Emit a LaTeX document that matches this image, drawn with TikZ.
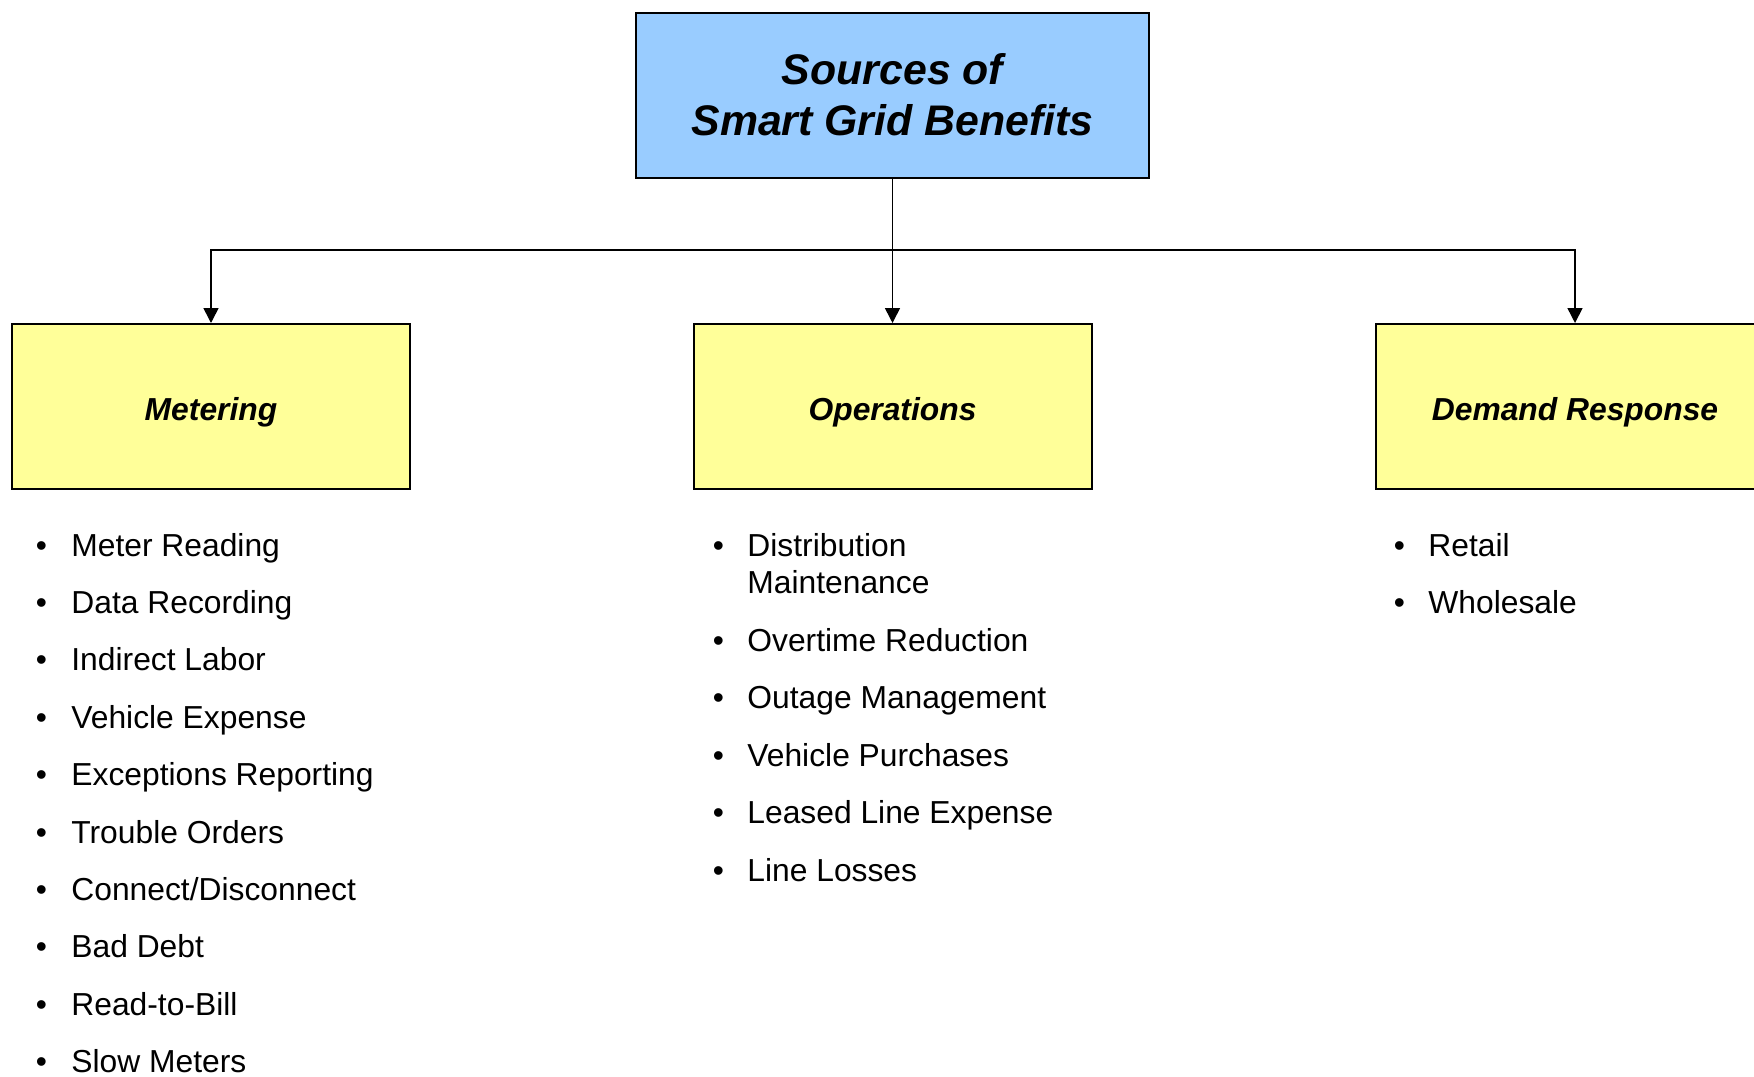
\documentclass[tikz,border=0pt]{standalone}
\usepackage{fontspec}
\setmainfont{Liberation Sans}
\usetikzlibrary{arrows.meta}
\definecolor{topblue}{RGB}{153,204,255}
\definecolor{catyellow}{RGB}{255,255,153}
\begin{document}
\begin{tikzpicture}[x=0.5pt,y=-0.5pt,
  box/.style={draw=black, line width=1pt, rectangle, inner sep=0pt, minimum height=82.5pt},
  cat/.style={box, fill=catyellow, minimum width=199pt, font=\fontsize{15.9}{19}\selectfont\bfseries\itshape, text height=13.5pt, text depth=0pt},
  conn/.style={line width=0.8pt, draw=black},
  arr/.style={conn, -{Triangle[length=7.5pt,width=7.5pt]}},
  bul/.style={anchor=base west, inner sep=0pt, font=\fontsize{15.9}{19}\selectfont},
  itemtext/.style={anchor=base west, inner sep=0pt, font=\fontsize{15.9}{19}\selectfont},
]
\useasboundingbox (0,0) rectangle (1754,1076);
\fill[white] (0,0) rectangle (1754,1076);

\node[box, fill=topblue, minimum width=256.5pt, align=center,
  font=\fontsize{21.4}{25.5}\selectfont\bfseries\itshape] (top) at (892.5,95)
  {Sources of\\Smart Grid Benefits};

\node[cat] (met) at (211,406.5) {Metering};
\node[cat] (ops) at (892.5,406.5) {Operations};
\node[cat] (dr)  at (1575,406.5) {Demand Response};

\coordinate (hub) at (892.5,250);
\draw[arr] (top.south) -- (ops.north);
\draw[arr] (hub) -| (met.north);
\draw[arr] (hub) -| (dr.north);

% Metering list
\foreach \t [count=\i] in {Meter Reading, Data Recording, Indirect Labor, Vehicle Expense,
  Exceptions Reporting, Trouble Orders, Connect/Disconnect, Bad Debt, Read-to-Bill, Slow Meters}{
  \node[bul] (mb\i) at (35.5,{556+(\i-1)*57.4}) {•};
  \node[itemtext] (mt\i) at (71,{556+(\i-1)*57.4}) {\t};
}

% Operations list
\node[bul] (ob1) at (712.5,556) {•};
\node[itemtext] (ot1) at (747,556) {Distribution};
\node[itemtext] (ot1b) at (747,593) {Maintenance};
\foreach \t [count=\i from 2] in {Overtime Reduction, Outage Management, Vehicle Purchases,
  Leased Line Expense, Line Losses}{
  \node[bul] (ob\i) at (712.5,{651+(\i-2)*57.5}) {•};
  \node[itemtext] (ot\i) at (747,{651+(\i-2)*57.5}) {\t};
}

% Demand Response list
\node[bul] (db1) at (1393.5,556) {•};
\node[itemtext] (dt1) at (1428,556) {Retail};
\node[bul] (db2) at (1393.5,613.4) {•};
\node[itemtext] (dt2) at (1428,613.4) {Wholesale};
\end{tikzpicture}
\end{document}
